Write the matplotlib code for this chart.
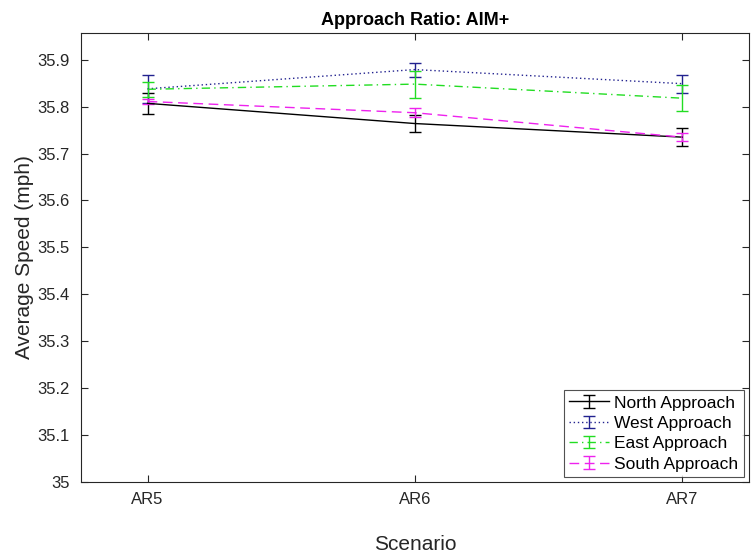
import matplotlib
matplotlib.use("Agg")
from matplotlib import pyplot as plt
from matplotlib.container import ErrorbarContainer
from matplotlib.legend_handler import HandlerErrorbar
import numpy as np

scenarios = ["AR5", "AR6", "AR7"]

north = [35.807, 35.764, 35.735]
north_err = [0.022, 0.019, 0.019]
west = [35.838, 35.879, 35.849]
west_err = [0.030, 0.015, 0.019]
east = [35.837, 35.848, 35.818]
east_err = [0.016, 0.029, 0.028]
south = [35.811, 35.787, 35.735]
south_err = [0.005, 0.010, 0.008]

plt.rcParams['font.family'] = ['Liberation Sans', 'DejaVu Sans']

fig = plt.figure(figsize=(7.51, 5.58), dpi=100)
ax = fig.add_axes([0.1075, 0.1362, 0.8898, 0.8047])

x = np.arange(1, len(scenarios) + 1)

# one errorbar series per approach, styled like the matlab original
ax.errorbar(x, north, yerr=north_err, color="black", linestyle="-", lw=1.0,
            capsize=4.5, elinewidth=1.0, label="North Approach")
ax.errorbar(x, west, yerr=west_err, color="#22228f", linestyle=(0, (1, 2)), lw=1.0,
            capsize=4.5, elinewidth=1.0, label="West Approach")
ax.errorbar(x, east, yerr=east_err, color="#22dd22", linestyle=(0, (6, 3, 1, 3)), lw=1.0,
            capsize=4.5, elinewidth=1.0, label="East Approach")
ax.errorbar(x, south, yerr=south_err, color="#ee22ee", linestyle=(0, (7, 4)), lw=1.0,
            capsize=4.5, elinewidth=1.0, label="South Approach")

ax.set_xlim(0.75, 3.25)
ax.set_ylim(35, 35.957)
ax.set_xticks(x)
ax.set_xticklabels(scenarios)
ax.set_yticks(np.arange(35, 35.95, 0.1))
ax.set_yticklabels(["35"] + ["%.1f" % v for v in np.arange(35.1, 35.95, 0.1)])

ax.tick_params(direction="in", length=5, width=0.8, top=True, right=True,
               labelsize=12, colors="0.15")
ax.tick_params(axis="y", pad=8)
ax.tick_params(axis="x", pad=7)
for s in ax.spines.values():
    s.set_color("0.15")
    s.set_linewidth(0.8)

ax.set_xlabel("Scenario", fontsize=15, color="0.15", labelpad=20)
ax.set_ylabel("Average Speed (mph)", fontsize=15, color="0.15", labelpad=2)
ax.set_title("Approach Ratio: AIM+", fontsize=13, fontweight="bold", pad=6)

leg = ax.legend(loc="lower right", fontsize=12.5, frameon=True, fancybox=False,
                edgecolor="0.15", handlelength=2.3, handletextpad=0.3,
                labelspacing=0.3, borderpad=0.3, borderaxespad=0.3,
                handler_map={ErrorbarContainer: HandlerErrorbar(xerr_size=0.35, yerr_size=0.35)})
leg.get_frame().set_linewidth(0.8)

fig.savefig("out.png", dpi=100)
